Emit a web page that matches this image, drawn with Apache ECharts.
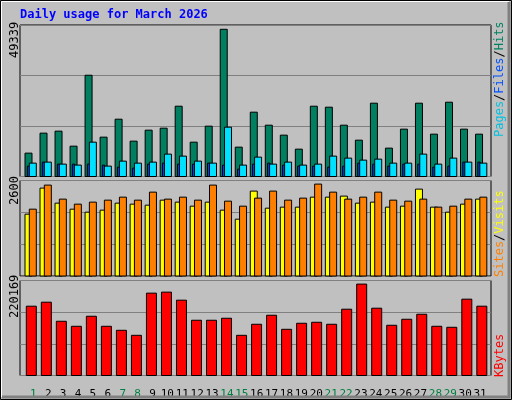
<!DOCTYPE html>
<html><head><meta charset="utf-8">
<script src="https://cdn.jsdelivr.net/npm/echarts@6/dist/echarts.min.js"></script>
<style>html,body{margin:0;padding:0;background:#c0c0c0}#c{width:512px;height:400px}</style>
</head><body><div id="c"></div>
<script>
const days = [1,2,3,4,5,6,7,8,9,10,11,12,13,14,15,16,17,18,19,20,21,22,23,24,25,26,27,28,29,30,31];
const weekend = [1,7,8,14,15,21,22,28,29];
const hits = [7830,14530,15200,10170,33940,13190,19210,11850,15530,16200,23560,11510,16870,49339,9840,21560,17200,13860,9170,23560,23230,17200,12180,24570,9510,15870,24570,14190,24900,15870,14190];
const files = [4480,4820,4150,3820,11510,3480,5150,4480,4820,7500,6830,5150,4480,16530,3820,6490,4150,4820,3820,4150,6830,6160,5490,5820,4480,4480,7500,4150,6160,4820,4480];
const pages = [3480,4820,4150,4150,4150,3820,3150,2810,4150,4480,4150,4150,4480,3820,2480,4150,4480,3820,3480,3480,3150,3480,4480,4150,3480,4150,4150,3150,3480,4820,4820];
const sites = [1749,2487,2061,1891,1806,1863,2061,2033,2004,2146,2090,1976,2090,1863,1607,2402,1919,1948,1948,2231,2231,2260,2061,2090,1948,1976,2458,1948,1806,2033,2175];
const visits = [1891,2572,2175,2033,2090,2146,2231,2146,2373,2175,2231,2146,2572,2118,1976,2203,2402,2146,2203,2600,2373,2175,2231,2373,2146,2118,2175,1948,1976,2175,2231];
const kbytes = [166950,176620,130650,118560,142750,118560,108880,96780,198400,200820,181460,133070,133070,137910,96780,123390,145170,111300,125810,128230,123390,159690,220169,162110,120980,135490,147590,118560,116140,183880,166950];
const maxHits = 49339, maxVisits = 2600, maxKB = 220169;

function barSeries(name, data, xi, yi, x0, w, color, z) {
  return {type:'custom', name, xAxisIndex:xi, yAxisIndex:yi, z,
    data: data.map((v,i)=>[days[i], v]),
    renderItem(params, api){
      const top = api.coord([api.value(0), api.value(1)]);
      const bot = api.coord([api.value(0), 0]);
      return {type:'rect', shape:{x:top[0]+x0, y:top[1], width:w, height:bot[1]-top[1]},
        style:{fill:color, stroke:'#000', lineWidth:1}};
    }};
}
const grids = [
  {left:20, right:21, top:25, height:151.5},
  {left:20, right:21, top:180.5, height:95.5},
  {left:20, right:21, top:280.5, height:95},
  {left:25.9, width:461.6, top:376, height:10}
];
const xv = i => ({type:'value', gridIndex:i, min:0.667, max:32.03, show:false});
const yv = (i, m) => ({type:'value', gridIndex:i, min:0, max:m, interval:m/3,
  axisLabel:{show:false}, axisLine:{show:false}, axisTick:{show:false},
  splitLine:{show:true, lineStyle:{color:'#808080', width:1}}});
const mono = 'DejaVu Sans Mono';
function vtext(x, yBottom, parts, size) {
  // parts: [[text,color],...] reading bottom to top
  return {type:'text', x, y:yBottom, rotation:Math.PI/2,
    style:{text: parts.map((p,i)=>'{s'+i+'|'+p[0]+'}').join(''),
      rich: Object.fromEntries(parts.map((p,i)=>['s'+i,{fill:p[1], fontFamily:mono, fontSize:size}])),
      textVerticalAlign:'middle'}};
}
const chart = echarts.init(document.getElementById('c'));
chart.setOption({
  backgroundColor:'#c0c0c0', animation:false,
  grid: grids.map((g,i)=>Object.assign({show:i<3, backgroundColor:'#c0c0c0', borderColor:'#000', borderWidth:1}, g)),
  xAxis: [xv(0), xv(1), xv(2), {type:'category', gridIndex:3, data:days.map(String), boundaryGap:true,
    axisLine:{show:false}, axisTick:{show:false},
    axisLabel:{interval:0, margin:4, fontFamily:mono, fontSize:11,
      color:(v)=>weekend.includes(+v)?'#008040':'#000'}}],
  yAxis: [yv(0, 50780), yv(1, 2702), yv(2, 228860), {type:'value', gridIndex:3, show:false}],
  series: [
    barSeries('Hits', hits, 0, 0, 0, 7, '#008060', 2),
    barSeries('Pages', pages, 0, 0, 2.3, 2.4, '#0040ff', 3),
    barSeries('Files', files, 0, 0, 4.3, 7, '#00e0ff', 4),
    barSeries('Sites', sites, 1, 1, 0, 7, '#ffff00', 2),
    barSeries('Visits', visits, 1, 1, 4.3, 7, '#ff8000', 3),
    barSeries('KBytes', kbytes, 2, 2, 1.3, 10, '#ff0000', 2)
  ],
  graphic: [
    {type:'rect', shape:{x:0.5,y:0.5,width:511,height:399}, style:{fill:'none', stroke:'#000', lineWidth:1}, z:100},
    {type:'polyline', shape:{points:[[2,397],[509,397],[509,2]]}, style:{stroke:'#808080', lineWidth:3, fill:null}, z:100},
    {type:'polyline', shape:{points:[[1.5,397],[1.5,1.5],[509,1.5]]}, style:{stroke:'#ffffff', lineWidth:1, fill:null}, z:100},
    {type:'text', x:20, y:9, style:{text:'Daily usage for March 2026', fill:'#0000ff', fontFamily:mono, fontWeight:'bold', fontSize:12}},
    {type:'text', x:9, y:58, rotation:Math.PI/2, style:{text:String(maxHits), fill:'#000', fontFamily:mono, fontSize:12}},
    {type:'text', x:9, y:205, rotation:Math.PI/2, style:{text:String(maxVisits), fill:'#000', fontFamily:mono, fontSize:12}},
    {type:'text', x:9, y:318, rotation:Math.PI/2, style:{text:String(maxKB), fill:'#000', fontFamily:mono, fontSize:12}},
    vtext(500, 137, [['Pages','#00c0e0'],['/','#000'],['Files','#0050ff'],['/','#000'],['Hits','#008060']], 12),
    vtext(500, 277, [['Sites','#ff8000'],['/','#000'],['Visits','#ffff00']], 12),
    vtext(500, 377, [['KBytes','#ff0000']], 12)
  ]
});
</script></body></html>
